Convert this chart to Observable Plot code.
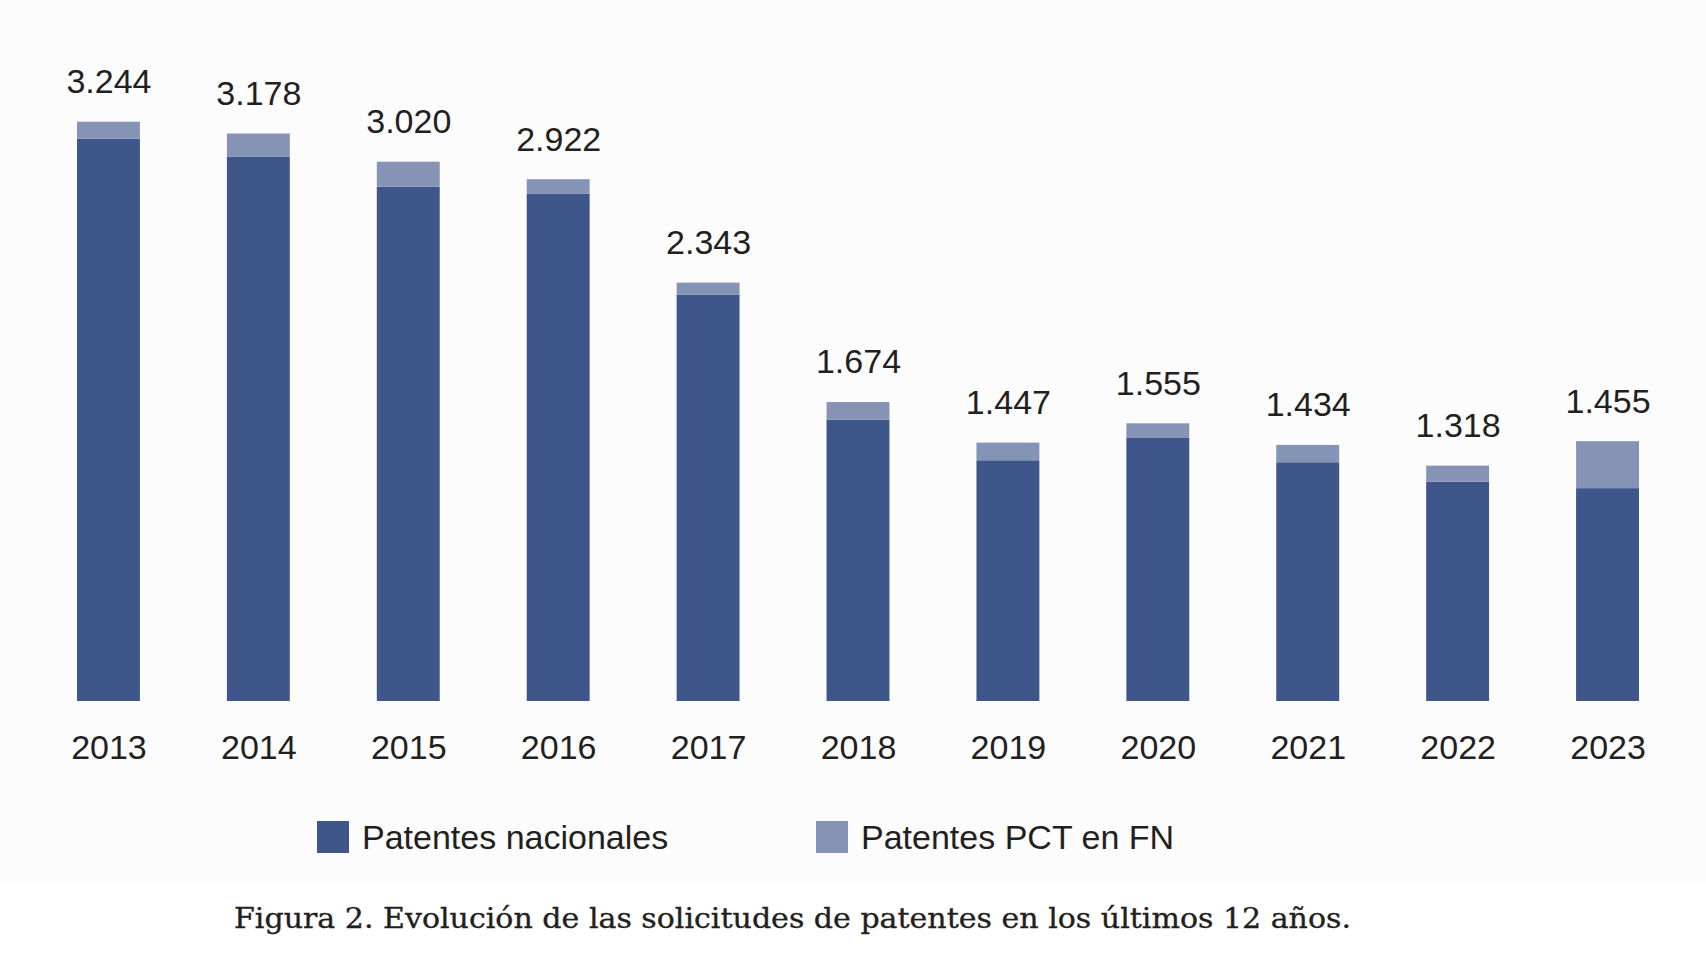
<!DOCTYPE html>
<html>
<head>
<meta charset="utf-8">
<script src="https://cdn.jsdelivr.net/npm/d3@7"></script>
<script src="https://cdn.jsdelivr.net/npm/@observablehq/plot@0.6"></script>
<style>
  html, body { margin: 0; padding: 0; background: #ffffff; }
  #page { position: relative; width: 1706px; height: 960px; overflow: hidden; background: #ffffff; }
  #panel { position: absolute; left: 0; top: 0; width: 1706px; height: 881px; background: #fcfcfc; }
  #chart { position: absolute; left: 0; top: 0; }
  .legend { position: absolute; top: 821px; font-family: "Liberation Sans", Arial, sans-serif; font-size: 34px; color: #231f20; display: flex; align-items: center; height: 32px; }
  .legend .sw { width: 32px; height: 32px; margin-right: 13px; flex: none; }
  #caption { position: absolute; left: 234px; top: 902px; font-family: "DejaVu Serif", serif; font-size: 28px; color: #231f20; white-space: nowrap; transform-origin: 0 50%; -webkit-text-stroke: 0.35px #231f20; }
</style>
</head>
<body>
<div id="page">
  <div id="panel"></div>
  <div id="chart"></div>
  <div class="legend" id="leg1" style="left:317px"></div>
  <div class="legend" id="leg2" style="left:816px"></div>
  <div id="caption">Figura 2. Evolución de las solicitudes de patentes en los últimos 12 años.</div>
</div>
<script>
// ---- Data ----
const years = ["2013","2014","2015","2016","2017","2018","2019","2020","2021","2022","2023"];
const nacionales = [3149, 3047, 2880, 2840, 2276, 1575, 1348, 1473, 1337, 1228, 1192];
const pctFN      = [  95,  131,  140,   82,   67,   99,   99,   82,   97,   90,  263];
const totals     = [3244, 3178, 3020, 2922, 2343, 1674, 1447, 1555, 1434, 1318, 1455];
const seriesNames = ["Patentes nacionales", "Patentes PCT en FN"];
const seriesColors = ["#3e568a", "#8593b5"];

// ---- Build table ----
const rows = [];
years.forEach((y, i) => {
  rows.push({year: y, serie: seriesNames[0], value: nacionales[i]});
  rows.push({year: y, serie: seriesNames[1], value: pctFN[i]});
});
const totalRows = years.map((y, i) => ({year: y, total: totals[i]}));

const esFormat = d3.formatLocale({decimal: ",", thousands: ".", grouping: [3], currency: ["", " €"]}).format(",d");

const chart = Plot.plot({
  width: 1706,
  height: 790,
  marginTop: 76,
  marginBottom: 89,
  marginLeft: 33.5,
  marginRight: 23.5,
  style: {background: "transparent", fontFamily: "'Liberation Sans', Arial, sans-serif", color: "#231f20"},
  x: {domain: years, padding: 0, round: false, label: null},
  y: {domain: [0, 3500], axis: null},
  color: {domain: seriesNames, range: seriesColors},
  marks: [
    Plot.barY(rows, {x: "year", y: "value", fill: "serie", order: seriesNames, insetLeft: 43.5, insetRight: 43.5}),
    Plot.text(totalRows, {x: "year", y: "total", text: d => esFormat(d.total), dy: -40, lineAnchor: "middle", fontSize: 34, fill: "#231f20"}),
    Plot.axisX({tickSize: 0, tickPadding: 33, fontSize: 34, color: "#231f20", label: null})
  ]
});
document.getElementById("chart").appendChild(chart);

// ---- Legend ----
[["leg1", 0], ["leg2", 1]].forEach(([id, k]) => {
  const el = document.getElementById(id);
  const sw = document.createElement("span");
  sw.className = "sw";
  sw.style.background = seriesColors[k];
  el.appendChild(sw);
  const t = document.createElement("span");
  t.textContent = seriesNames[k];
  el.appendChild(t);
});

// ---- Caption width fit (reference spans ~1117px) ----
const cap = document.getElementById("caption");
const w = cap.getBoundingClientRect().width;
cap.style.transform = "scaleX(" + (1117 / w).toFixed(4) + ")";
</script>
</body>
</html>
